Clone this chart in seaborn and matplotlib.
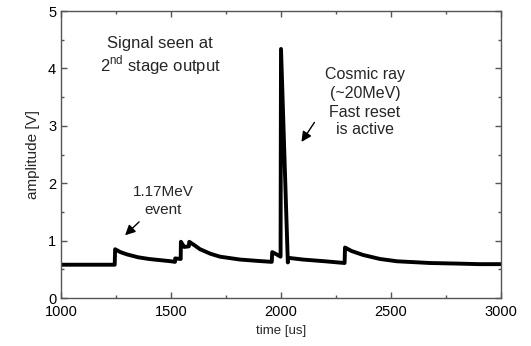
import numpy as np
import pandas as pd
import seaborn as sns
import matplotlib.pyplot as plt
from matplotlib.ticker import MultipleLocator

# waveform breakpoints
time_us = [1000, 1100, 1200, 1244, 1246, 1270, 1300, 1350, 1400, 1450, 1500, 1518,
           1519, 1544, 1545, 1558, 1560, 1581, 1583, 1610, 1632, 1680, 1723, 1814, 1900, 1958,
           1960, 1980, 1998, 2000, 2031, 2033, 2100, 2200, 2289,
           2291, 2320, 2373, 2450, 2527, 2677, 2800, 2900, 3000]
amplitude_v = [0.58, 0.58, 0.58, 0.58, 0.85, 0.80, 0.76, 0.71, 0.68, 0.66, 0.64, 0.63,
               0.69, 0.68, 0.98, 0.90, 0.89, 0.90, 0.98, 0.91, 0.85, 0.77, 0.72, 0.67, 0.645, 0.63,
               0.80, 0.76, 0.72, 4.34, 0.62, 0.70, 0.67, 0.64, 0.61,
               0.88, 0.82, 0.75, 0.68, 0.64, 0.61, 0.60, 0.59, 0.59]

df = pd.DataFrame({'time': time_us, 'amp': amplitude_v})

sns.set_style('ticks')
plt.rcParams['font.family'] = ['Liberation Sans', 'DejaVu Sans']
plt.rcParams['mathtext.fontset'] = 'custom'
plt.rcParams['mathtext.rm'] = 'Liberation Sans'

fig = plt.figure(figsize=(5.31, 3.46), dpi=100)
ax = fig.add_axes([0.1149, 0.1387, 0.8286, 0.8293])

sns.lineplot(data=df, x='time', y='amp', estimator=None, sort=False,
             color='black', linewidth=2.8, ax=ax)

ax.set_xlim(1000, 3000)
ax.set_ylim(0, 5)
ax.xaxis.set_major_locator(MultipleLocator(500))
ax.xaxis.set_minor_locator(MultipleLocator(250))
ax.yaxis.set_major_locator(MultipleLocator(1))
ax.yaxis.set_minor_locator(MultipleLocator(0.5))
ax.tick_params(which='both', direction='in', top=True, right=True, colors='#555555',
               labelcolor='black', labelsize=10.5, width=1)
ax.tick_params(which='major', length=4)
ax.tick_params(which='minor', length=2)
ax.tick_params(axis='x', pad=5)
for s in ax.spines.values():
    s.set_color('#555555')
    s.set_linewidth(1)

ax.set_xlabel('time [us]', fontsize=9.5, labelpad=4)
ax.set_ylabel('amplitude [V]', fontsize=11, labelpad=6)

ax.text(1450, 4.44, 'Signal seen at', ha='center', va='center', fontsize=12)
ax.text(1450, 4.06, '2$^{\\rm nd}$ stage output', ha='center', va='center', fontsize=12)

ax.text(1464, 1.85, '1.17MeV', ha='center', va='center', fontsize=11)
ax.text(1464, 1.53, 'event', ha='center', va='center', fontsize=11)
ax.annotate('', xy=(1282, 1.06), xytext=(1364, 1.36),
            arrowprops=dict(arrowstyle='-|>', color='black', lw=1, mutation_scale=15))

for txt, yy in zip(['Cosmic ray', '(~20MeV)', 'Fast reset', 'is active'],
                   [3.90, 3.57, 3.24, 2.93]):
    ax.text(2382, yy, txt, ha='center', va='center', fontsize=11.5)
ax.annotate('', xy=(2086, 2.68), xytext=(2159, 3.10),
            arrowprops=dict(arrowstyle='-|>', color='black', lw=1, mutation_scale=15))

fig.savefig('out.png', dpi=100)
